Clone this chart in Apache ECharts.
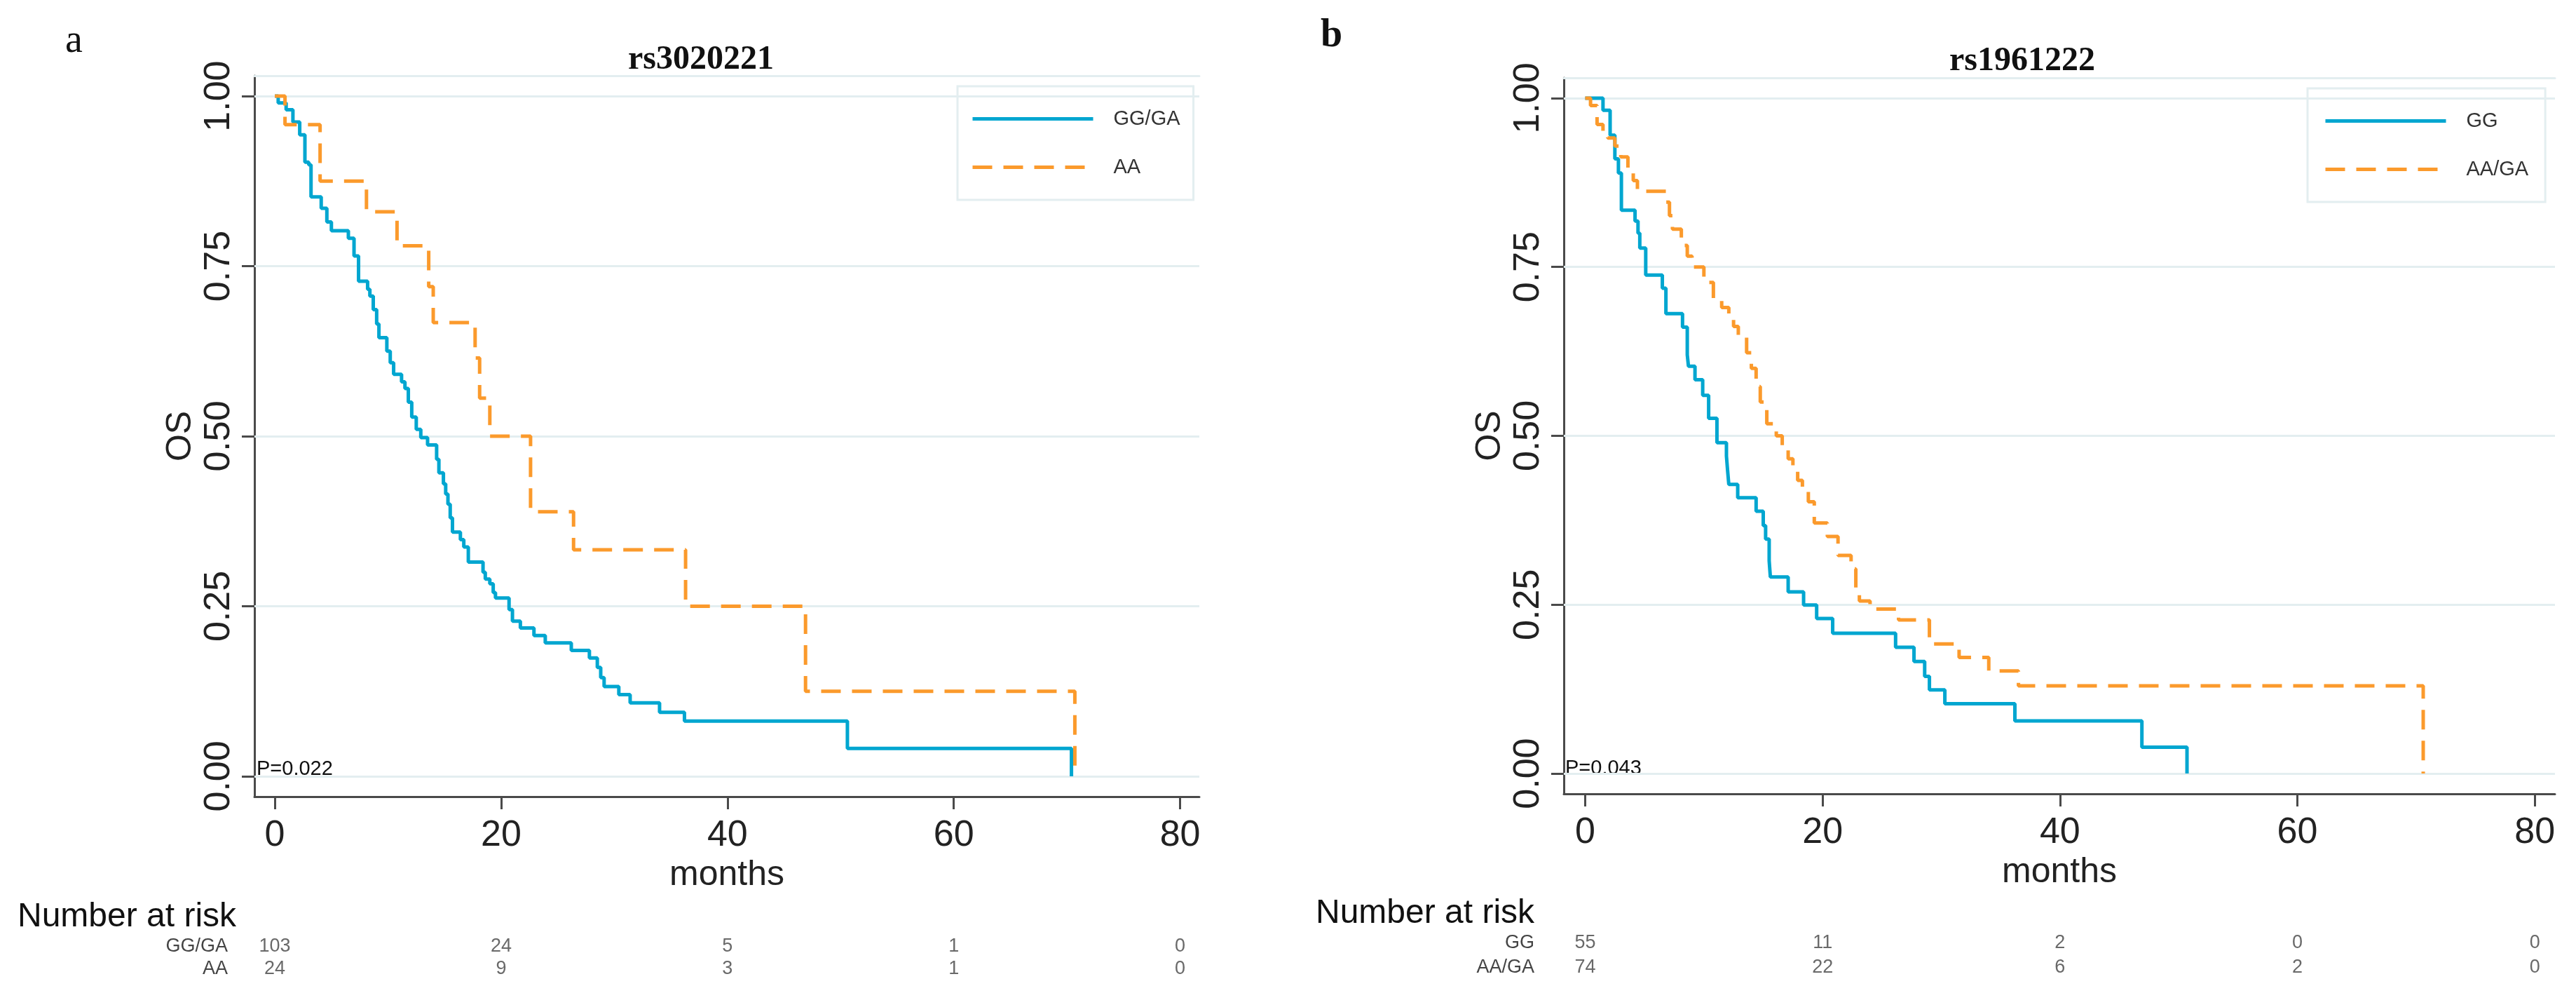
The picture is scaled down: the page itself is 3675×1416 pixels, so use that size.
<!DOCTYPE html>
<html>
<head>
<meta charset="utf-8">
<script src="https://cdn.jsdelivr.net/npm/echarts@6/dist/echarts.min.js"></script>
<style>
html,body{margin:0;padding:0;background:#fff;}
#c{width:3675px;height:1416px;}
</style>
</head>
<body>
<div id="c"></div>
<script>
// ---- data ----
const monthTicks = [0, 20, 40, 60, 80];
const osTicks = [0, 0.25, 0.5, 0.75, 1];

// Panel a (rs3020221)
const aGGGA_t = [0,0.3,1.0,1.6,2.2,2.66,3.0,3.2,4.1,4.6,5.0,6.5,7.0,7.4,8.2,8.4,8.7,9.0,9.2,9.9,10.2,10.5,11.2,11.5,11.8,12.1,12.5,12.9,13.5,14.3,14.5,14.9,15.1,15.3,15.5,15.7,16.4,16.7,17.1,18.4,18.6,19.0,19.3,19.5,20.7,21.0,21.7,22.9,23.9,26.2,27.8,28.5,28.8,29.1,30.4,31.4,34.0,36.2,50.6,70.4];
const aGGGA_s = [1,0.99,0.98,0.962,0.943,0.903,0.899,0.852,0.835,0.815,0.802,0.791,0.765,0.728,0.716,0.706,0.686,0.665,0.645,0.625,0.608,0.591,0.58,0.57,0.55,0.528,0.51,0.498,0.487,0.466,0.446,0.43,0.415,0.40,0.38,0.359,0.348,0.337,0.315,0.30,0.29,0.283,0.27,0.262,0.245,0.228,0.218,0.207,0.196,0.185,0.174,0.16,0.145,0.132,0.12,0.108,0.094,0.081,0.041,0];
const aAA_t = [0,0.9,4.0,8.1,10.8,13.6,14.0,17.7,18.1,19.0,22.6,26.4,36.3,46.9,70.7];
const aAA_s = [1,0.958,0.875,0.83,0.78,0.72,0.667,0.615,0.556,0.50,0.389,0.333,0.25,0.125,0];

// Panel b (rs1961222)
const bGG_t = [0,1.5,2.1,2.5,2.8,3.05,4.2,4.45,4.6,5.1,6.5,6.8,8.2,8.6,8.7,9.25,9.9,10.4,11.1,11.9,12.0,12.1,12.85,14.4,15.0,15.2,15.5,15.6,17.1,18.4,19.5,20.85,26.15,27.7,28.6,29.0,30.3,36.2,46.9,50.7];
const bGG_s = [1,0.982,0.945,0.91,0.889,0.834,0.818,0.80,0.778,0.738,0.7185,0.681,0.661,0.62,0.603,0.583,0.56,0.526,0.49,0.47,0.448,0.428,0.4085,0.3885,0.367,0.347,0.315,0.291,0.269,0.2495,0.2295,0.2077,0.187,0.166,0.144,0.124,0.1035,0.078,0.039,0];
const bAAGA_t = [0,0.45,1.0,1.5,1.9,2.5,3.0,3.6,4.05,4.4,6.8,7.1,7.35,8.1,8.6,9.0,10.0,10.8,11.5,12.1,12.5,12.9,13.6,14.0,14.4,14.75,15.3,16.1,16.6,17.1,17.5,17.9,18.3,18.8,19.3,20.4,21.3,22.4,22.8,23.1,24.0,26.4,29.0,31.5,34.0,36.5,70.6];
const bAAGA_s = [1,0.989,0.961,0.95,0.941,0.929,0.913,0.893,0.878,0.862,0.846,0.826,0.806,0.782,0.766,0.75,0.727,0.703,0.69,0.676,0.662,0.649,0.623,0.60,0.573,0.55,0.518,0.50,0.48,0.466,0.45,0.434,0.42,0.4025,0.371,0.351,0.323,0.303,0.275,0.2554,0.2435,0.2276,0.192,0.172,0.152,0.130,0];

// Number at risk
const riskA_GGGA = [103, 24, 5, 1, 0];
const riskA_AA = [24, 9, 3, 1, 0];
const riskB_GG = [55, 11, 2, 0, 0];
const riskB_AAGA = [74, 22, 6, 2, 0];

// ---- styles ----
const BLUE = '#00a6d0';
const ORANGE = '#fb9a2c';
const GRID = '#e3eef0';
const AXIS = '#4a4a4a';
const SANS = "'Liberation Sans', Arial, sans-serif";
const SERIF = "'Liberation Serif', 'Times New Roman', serif";
const XMIN = -1.8, XMAX = 81.7, YMIN = -0.03, YMAX = 1.03;

const zip = (t, s) => t.map((v, i) => [v, s[i]]);

function mainX(gi) {
  return {
    type: 'value', gridIndex: gi, min: XMIN, max: XMAX,
    name: 'months', nameLocation: 'middle', nameGap: 74,
    nameTextStyle: { fontSize: 50, color: '#222', fontFamily: SANS },
    axisLine: { show: true, onZero: false, lineStyle: { color: AXIS, width: 3 } },
    axisTick: { show: true, customValues: monthTicks, length: 18, lineStyle: { color: AXIS, width: 3 } },
    axisLabel: { customValues: monthTicks, fontSize: 52, color: '#222', margin: 30, fontFamily: SANS },
    splitLine: { show: false }
  };
}
function topX(gi) {
  return {
    type: 'value', gridIndex: gi, min: XMIN, max: XMAX, position: 'top',
    axisLine: { show: true, onZero: false, lineStyle: { color: GRID, width: 3 } },
    axisTick: { show: false }, axisLabel: { show: false }, splitLine: { show: false }
  };
}
function mainY(gi) {
  return {
    type: 'value', gridIndex: gi, min: YMIN, max: YMAX,
    name: 'OS', nameLocation: 'middle', nameGap: 80,
    nameTextStyle: { fontSize: 50, color: '#222', fontFamily: SANS },
    axisLine: { show: true, onZero: false, lineStyle: { color: AXIS, width: 3 } },
    axisTick: { show: true, customValues: osTicks, length: 18, lineStyle: { color: AXIS, width: 3 } },
    axisLabel: { customValues: osTicks, rotate: 90, fontSize: 52, color: '#222', margin: 24, fontFamily: SANS,
      formatter: v => Number(v).toFixed(2) },
    splitLine: { show: false }
  };
}
function riskX(gi) {
  return { type: 'value', gridIndex: gi, min: XMIN, max: XMAX, show: false };
}
function riskY(gi, rows, margin) {
  return {
    type: 'category', gridIndex: gi, data: rows,
    axisLine: { show: false }, axisTick: { show: false }, splitLine: { show: false },
    axisLabel: { interval: 0, fontSize: 27, color: '#444', margin: margin, fontFamily: SANS }
  };
}
function kmLine(name, xi, yi, data, color, dashed, withGrid) {
  const s = {
    name, type: 'line', step: 'end', xAxisIndex: xi, yAxisIndex: yi,
    data, symbol: 'none', showSymbol: false, silent: true, animation: false,
    lineStyle: { color, width: 5, type: dashed ? [28, 16] : 'solid' },
    itemStyle: { color }, z: 5
  };
  if (withGrid) {
    s.markLine = {
      silent: true, symbol: 'none', animation: false, label: { show: false },
      lineStyle: { color: GRID, width: 3, type: 'solid' },
      data: osTicks.map(v => ({ yAxis: v })), z: 1
    };
  }
  return s;
}
function riskSeries(xi, yi, row, counts) {
  return {
    type: 'scatter', xAxisIndex: xi, yAxisIndex: yi, symbolSize: 2,
    itemStyle: { color: 'rgba(0,0,0,0)' }, silent: true, animation: false,
    data: counts.map((n, i) => [monthTicks[i], row, n]),
    label: { show: true, position: 'inside', formatter: p => String(p.value[2]),
      fontSize: 27, color: '#444', fontFamily: SANS }
  };
}
function legendBox(names, left, top, pad) {
  return {
    data: names, orient: 'vertical', left, top,
    itemWidth: 172, itemHeight: 28, itemGap: 40, padding: pad,
    borderColor: GRID, borderWidth: 3, selectedMode: false,
    itemStyle: { opacity: 0 },
    lineStyle: { width: 5 },
    textStyle: { fontSize: 29, color: '#333', fontFamily: SANS, padding: [0, 0, 0, 24] }
  };
}
function txt(text, x, y, size, font, weight, align) {
  return { type: 'text', x, y, silent: true,
    style: { text, fontSize: size, fontFamily: font, fontWeight: weight || 'normal',
      fill: '#111', textAlign: align || 'left', textVerticalAlign: 'middle' } };
}

const chart = echarts.init(document.getElementById('c'), null, { renderer: 'canvas' });
chart.setOption({
  backgroundColor: '#ffffff',
  animation: false,
  grid: [
    { left: 363, top: 108, width: 1348, height: 1028 },
    { left: 2231, top: 111, width: 1414, height: 1021 },
    { left: 363, top: 1334, width: 1348, height: 64 },
    { left: 2231, top: 1327, width: 1414, height: 70 }
  ],
  xAxis: [mainX(0), mainX(1), topX(0), topX(1), riskX(2), riskX(3)],
  yAxis: [mainY(0), mainY(1), riskY(2, ['AA', 'GG/GA'], 38), riskY(3, ['AA/GA', 'GG'], 42)],
  legend: [
    legendBox(['GG/GA', 'AA'], 1366, 123, [32, 19, 32, 19]),
    legendBox(['GG', 'AA/GA'], 3292, 126, [32, 24, 32, 23])
  ],
  series: [
    kmLine('GG/GA', 0, 0, zip(aGGGA_t, aGGGA_s), BLUE, false, true),
    kmLine('AA', 0, 0, zip(aAA_t, aAA_s), ORANGE, true, false),
    kmLine('GG', 1, 1, zip(bGG_t, bGG_s), BLUE, false, true),
    kmLine('AA/GA', 1, 1, zip(bAAGA_t, bAAGA_s), ORANGE, true, false),
    riskSeries(4, 2, 'GG/GA', riskA_GGGA),
    riskSeries(4, 2, 'AA', riskA_AA),
    riskSeries(5, 3, 'GG', riskB_GG),
    riskSeries(5, 3, 'AA/GA', riskB_AAGA)
  ],
  graphic: [
    txt('a', 93, 59, 56, SERIF, 'normal'),
    txt('b', 1884, 52, 56, SERIF, 'bold'),
    txt('rs3020221', 1000, 86, 48, SERIF, 'bold', 'center'),
    txt('rs1961222', 2885, 88, 48, SERIF, 'bold', 'center'),
    txt('P=0.022', 366, 1097, 29, SANS, 'normal'),
    txt('P=0.043', 2233, 1096, 29, SANS, 'normal'),
    txt('Number at risk', 25, 1308, 48, SANS, 'normal'),
    txt('Number at risk', 1877, 1303, 48, SANS, 'normal')
  ]
});
</script>
</body>
</html>
